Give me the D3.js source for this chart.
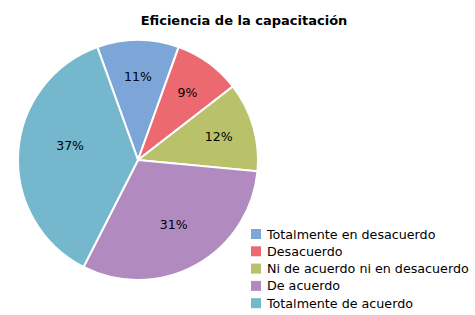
<!DOCTYPE html>
<html>
<head>
<meta charset="utf-8">
<script src="https://cdn.jsdelivr.net/npm/d3@7"></script>
<style>
  body { margin: 0; background: #fff; }
  text { font-family: "DejaVu Sans", Verdana, sans-serif; fill: #000; }
</style>
</head>
<body>
<div id="chart"></div>
<script>
// data
const categories = ['Totalmente en desacuerdo', 'Desacuerdo', 'Ni de acuerdo ni en desacuerdo', 'De acuerdo', 'Totalmente de acuerdo'];
const values = [11, 9, 12, 31, 37];
const colors = ['#7da6d8', '#ec6a6f', '#b9c16a', '#b18ac0', '#75b7cc'];

const width = 475, height = 315;
const cx = 138, cy = 160, radius = 120;

const svg = d3.select('#chart').append('svg')
    .attr('width', width)
    .attr('height', height);

svg.append('text')
    .attr('x', 244)
    .attr('y', 25)
    .attr('text-anchor', 'middle')
    .attr('font-size', '13px')
    .attr('font-weight', 'bold')
    .text('Eficiencia de la capacitación');

// first slice is centred on 12 o'clock
const total = d3.sum(values);
const start = -Math.PI * values[0] / total;
const pie = d3.pie().sort(null).value(d => d)
    .startAngle(start).endAngle(start + 2 * Math.PI);
const arcs = pie(values);

const arc = d3.arc().innerRadius(0).outerRadius(radius);
const labelArc = d3.arc().innerRadius(radius * 0.7).outerRadius(radius * 0.7);

const g = svg.append('g').attr('transform', `translate(${cx}, ${cy})`);

g.selectAll('.slice')
    .data(arcs)
    .enter().append('path')
    .attr('class', 'slice')
    .attr('d', arc)
    .attr('fill', (d, i) => colors[i])
    .attr('stroke', '#fff')
    .attr('stroke-width', 2);

// big slices get their label pulled a bit toward the centre, like excel does
const maxVal = d3.max(values);
g.selectAll('.label')
    .data(arcs)
    .enter().append('text')
    .attr('class', 'label')
    .attr('transform', d => {
        let [x, y] = labelArc.centroid(d);
        if (d.value === maxVal) { x *= 0.81; y = y * 0.81 - 10; }
        else if (d.value > 30) { x *= 0.88; y *= 0.88; }
        return `translate(${x}, ${y})`;
    })
    .attr('text-anchor', 'middle')
    .attr('dominant-baseline', 'central')
    .attr('font-size', '12.5px')
    .text(d => Math.round(d.value / total * 100) + '%');

// legend
const legend = svg.append('g').attr('transform', 'translate(251, 234)');
const rowH = 17.3;
const rows = legend.selectAll('.row')
    .data(categories)
    .enter().append('g')
    .attr('class', 'row')
    .attr('transform', (d, i) => `translate(0, ${i * rowH})`);
rows.append('rect')
    .attr('x', 0).attr('y', -5)
    .attr('width', 10).attr('height', 10)
    .attr('fill', (d, i) => colors[i]);
rows.append('text')
    .attr('x', 16)
    .attr('y', 0)
    .attr('dominant-baseline', 'central')
    .attr('font-size', '12.7px')
    .text(d => d);
</script>
</body>
</html>
